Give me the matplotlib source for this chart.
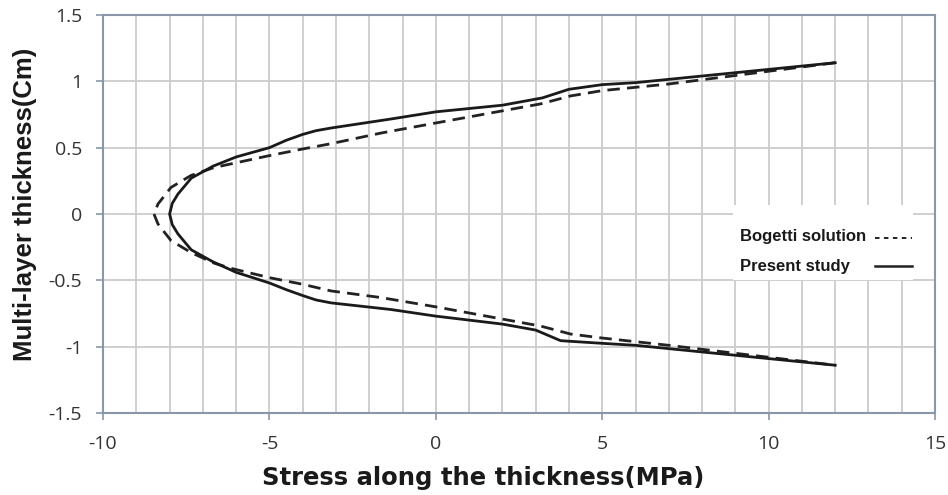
import matplotlib.pyplot as plt
import numpy as np
from matplotlib import font_manager
from matplotlib.lines import Line2D
from matplotlib.patches import Rectangle

plt.rcParams['axes.unicode_minus'] = False

# present study, top branch then bottom branch
present_x_top = [12, 10, 8, 6, 5, 4.0, 3.2, 2, 0, -1.35, -3.15, -3.6, -4.0, -4.5, -5.0, -6.0, -6.7, -7.35, -7.75, -7.92, -8.0]
present_y_top = [1.14, 1.09, 1.04, 0.99, 0.975, 0.94, 0.875, 0.82, 0.77, 0.716, 0.648, 0.628, 0.60, 0.555, 0.50, 0.43, 0.36, 0.27, 0.15, 0.08, 0.0]
present_x_bot = [-7.92, -7.75, -7.35, -6.7, -6.0, -5.0, -4.5, -4.0, -3.6, -3.15, -1.35, 0, 2, 3.0, 3.75, 5, 6, 8, 10, 12]
present_y_bot = [-0.08, -0.15, -0.27, -0.36, -0.44, -0.52, -0.57, -0.615, -0.648, -0.67, -0.72, -0.77, -0.83, -0.875, -0.955, -0.975, -0.99, -1.04, -1.09, -1.14]

# Bogetti solution
bogetti_x_top = [12, 10, 7, 5, 4.05, 3.15, 0, -1.65, -3.15, -4.0, -5.0, -6.67, -7.36, -7.96, -8.35, -8.47]
bogetti_y_top = [1.14, 1.076, 0.98, 0.93, 0.89, 0.83, 0.686, 0.61, 0.53, 0.49, 0.44, 0.35, 0.29, 0.20, 0.075, 0.0]
bogetti_x_bot = [-8.35, -7.96, -7.36, -6.67, -6.15, -5.0, -4.0, -3.15, -1.65, 0, 3.15, 4.05, 5, 7, 10, 12]
bogetti_y_bot = [-0.075, -0.20, -0.29, -0.37, -0.41, -0.48, -0.53, -0.58, -0.63, -0.70, -0.845, -0.905, -0.935, -0.99, -1.08, -1.14]

present_x = present_x_top + present_x_bot
present_y = present_y_top + present_y_bot
bogetti_x = bogetti_x_top + bogetti_x_bot
bogetti_y = bogetti_y_top + bogetti_y_bot

axis_col = '#8a97a8'
grid_col = '#cccccc'
text_col = '#1a1a1a'

installed = {f.name for f in font_manager.fontManager.ttflist}
if 'Liberation Sans Narrow' in installed:
    ylab_font, ylab_size = 'Liberation Sans Narrow', 21.5
else:
    ylab_font, ylab_size = 'Liberation Sans', 18.5

fig = plt.figure(figsize=(9.48, 4.95), dpi=100)
ax = fig.add_axes([0.1087, 0.1657, 0.8776, 0.8040])

ax.set_xlim(-10, 15)
ax.set_ylim(-1.5, 1.5)
ax.set_xticks(np.arange(-10, 16, 5))
ax.set_xticks(np.arange(-10, 16, 1), minor=True)
ax.set_yticks(np.arange(-1.5, 1.51, 0.5))
ax.set_yticklabels(['-1.5', '-1', '-0.5', '0', '0.5', '1', '1.5'])
ax.grid(True, which='both', axis='x', color=grid_col, lw=1.3)
ax.grid(True, which='major', axis='y', color=grid_col, lw=1.3)
ax.set_axisbelow(True)
ax.tick_params(which='minor', length=0)
ax.tick_params(which='major', direction='out', length=5, color=axis_col, width=1.2,
               labelsize=14, labelcolor='#333333')
ax.tick_params(axis='y', pad=10)
ax.tick_params(axis='x', pad=11)
for lab in ax.get_xticklabels() + ax.get_yticklabels():
    lab.set_family('Open Sans')
for s in ax.spines.values():
    s.set_color(axis_col)
    s.set_linewidth(1.5)

ax.plot(bogetti_x, bogetti_y, color='#222222', lw=2.0, dashes=(4.5, 2.6), zorder=3)
ax.plot(present_x, present_y, color='#1a1a1a', lw=2.0, zorder=3)

# legend: white panel, labels on the left, line samples on the right
ax.add_patch(Rectangle((0.757, 0.334), 0.216, 0.188, transform=ax.transAxes,
                       facecolor='white', edgecolor='none', zorder=2))
leg_font = {'family': 'Liberation Sans', 'weight': 'bold', 'size': 12, 'color': text_col}
ax.text(0.7656, 0.432, 'Bogetti solution', transform=ax.transAxes, ha='left', va='baseline', zorder=4, **leg_font)
ax.text(0.7656, 0.357, 'Present study', transform=ax.transAxes, ha='left', va='baseline', zorder=4, **leg_font)
ax.add_line(Line2D([0.928, 0.972], [0.440, 0.440], transform=ax.transAxes,
                   color='#222222', lw=1.4, dashes=(2.3, 2.3), zorder=4))
ax.add_line(Line2D([0.928, 0.972], [0.369, 0.369], transform=ax.transAxes,
                   color='#222222', lw=1.8, zorder=4))

ax.set_xlabel('Stress along the thickness(MPa)', family='DejaVu Sans', weight='bold',
              fontsize=17.5, color=text_col)
ax.set_ylabel('Multi-layer thickness(Cm)', family=ylab_font, weight='bold',
              fontsize=ylab_size, color=text_col)
ax.xaxis.set_label_coords(0.457, -0.133)
ax.yaxis.set_label_coords(-0.079, 0.523)

fig.savefig('out.png', dpi=100)
